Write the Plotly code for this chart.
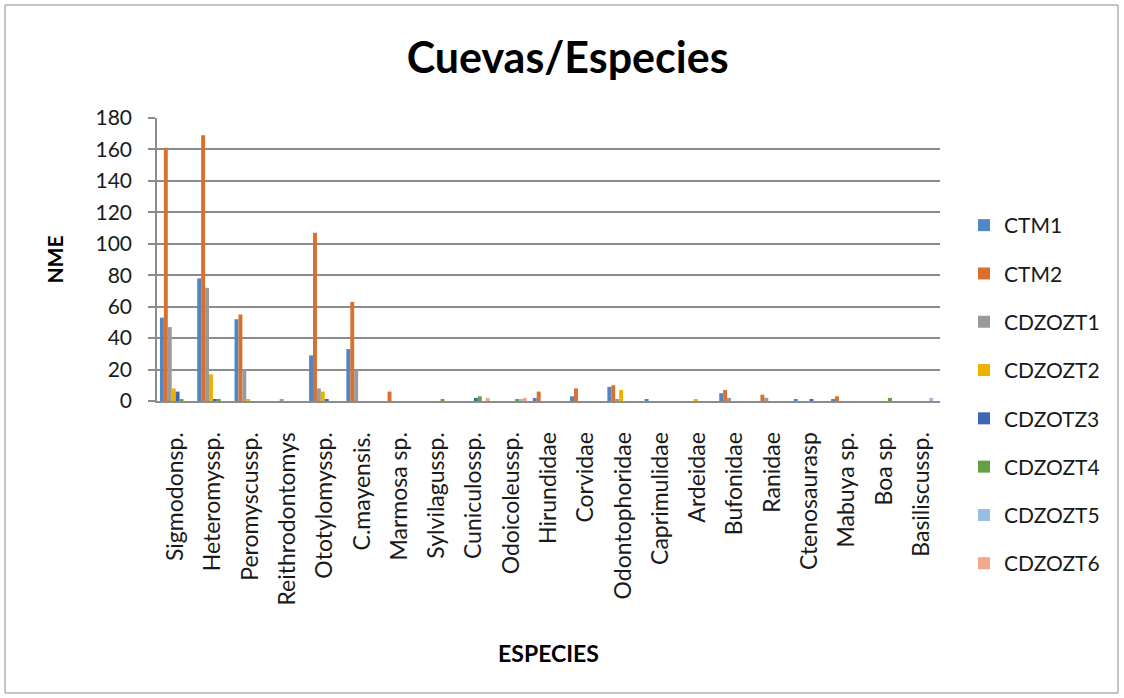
import plotly.graph_objects as go

# Species (categories on the x axis)
especies = [
    "Sigmodonsp.", "Heteromyssp.", "Peromyscussp.", "Reithrodontomys",
    "Ototylomyssp.", "C.mayensis.", "Marmosa sp.", "Sylvilagussp.",
    "Cuniculossp.", "Odoicoleussp.", "Hirundidae", "Corvidae",
    "Odontophoridae", "Caprimulidae", "Ardeidae", "Bufonidae",
    "Ranidae", "Ctenosaurasp", "Mabuya sp.", "Boa sp.", "Basiliscussp.",
]

# Counts (NME) per cave, one list per series
ctm1     = [53, 78, 52, 0, 29, 33, 0, 0, 0, 0, 2, 3, 9, 1, 0, 5, 0, 1, 1, 0, 0]
ctm2     = [161, 169, 55, 0, 107, 63, 6, 0, 0, 0, 6, 8, 10, 0, 0, 7, 4, 0, 3, 0, 0]
cdzozt1  = [47, 72, 20, 1, 8, 19, 0, 0, 0, 0, 0, 0, 1, 0, 0, 2, 2, 0, 0, 0, 0]
cdzozt2  = [8, 17, 1, 0, 6, 0, 0, 0, 0, 0, 0, 0, 7, 0, 1, 0, 0, 0, 0, 0, 0]
cdzotz3  = [6, 1, 0, 0, 1, 0, 0, 0, 2, 0, 0, 0, 0, 0, 0, 0, 0, 1, 0, 0, 0]
cdzozt4  = [1, 1, 0, 0, 0, 0, 0, 1, 3, 1, 0, 0, 0, 0, 0, 0, 0, 0, 0, 2, 0]
cdzozt5  = [0, 0, 0, 0, 0, 0, 0, 0, 0, 1, 0, 0, 0, 0, 0, 0, 0, 0, 0, 0, 2]
cdzozt6  = [0, 0, 0, 0, 0, 0, 0, 0, 2, 2, 0, 0, 0, 0, 0, 0, 0, 0, 0, 0, 0]

series = [
    ("CTM1", ctm1, "#4F86C3"),
    ("CTM2", ctm2, "#DA6F2E"),
    ("CDZOZT1", cdzozt1, "#9A9A9A"),
    ("CDZOZT2", cdzozt2, "#F0B000"),
    ("CDZOTZ3", cdzotz3, "#3F66B5"),
    ("CDZOZT4", cdzozt4, "#65A042"),
    ("CDZOZT5", cdzozt5, "#99BDE4"),
    ("CDZOZT6", cdzozt6, "#F2A88A"),
]

y_ticks = [0, 20, 40, 60, 80, 100, 120, 140, 160, 180]

FONT = "Lato"
W, H = 1124, 698
L, R, T, B = 157, 184, 118, 297
pw, ph = W - L - R, H - T - B


def px_x(x):
    return (x - L) / pw


def px_y(y):
    return (H - B - y) / ph


fig = go.Figure()
for name, vals, color in series:
    fig.add_trace(go.Bar(
        name=name, x=especies, y=vals, marker_color=color,
        marker_line_width=0, legendgroup=name,
    ))

fig.update_layout(
    width=W, height=H,
    margin=dict(l=L, r=R, t=T, b=B, autoexpand=False),
    paper_bgcolor="white", plot_bgcolor="white",
    barmode="group", bargap=0.158, bargroupgap=0,
    font=dict(family=FONT, color="#1a1a1a"),
    title=dict(
        text="<b>Cuevas/Especies</b>", x=0.505, xanchor="center",
        y=1 - 58 / H, yanchor="middle",
        font=dict(family=FONT, size=43, color="#000000"),
    ),
    legend=dict(
        x=px_x(964), xanchor="left", y=px_y(205), yanchor="top",
        font=dict(family=FONT, size=21, color="#1a1a1a"),
        tracegroupgap=18, bgcolor="rgba(0,0,0,0)", maxheight=600,
    ),
    shapes=[dict(
        type="rect", xref="paper", yref="paper",
        x0=px_x(5), x1=px_x(1118), y0=px_y(693), y1=px_y(5),
        line=dict(color="#8c8c8c", width=1), layer="below",
    )],
)

fig.update_yaxes(
    range=[0, 180], tickvals=y_ticks, ticktext=[str(v) for v in y_ticks],
    showgrid=True, gridcolor="#8c8c8c", gridwidth=1.5,
    showline=True, linecolor="#8c8c8c", linewidth=1.5,
    ticks="outside", ticklen=7, tickcolor="#8c8c8c", tickwidth=1.5,
    ticklabelstandoff=12,
    tickfont=dict(family=FONT, size=21, color="#1a1a1a"),
    zeroline=False,
    title=dict(text="<b>NME</b>", standoff=26,
               font=dict(family=FONT, size=21, color="#000000")),
)
fig.update_xaxes(
    showline=True, linecolor="#8c8c8c", linewidth=2,
    tickangle=-90, ticklabelstandoff=20,
    tickfont=dict(family=FONT, size=23, color="#1a1a1a"),
    title=dict(text="<b>ESPECIES</b>", standoff=41,
               font=dict(family=FONT, size=23, color="#000000")),
)

fig.write_html("out.html")
